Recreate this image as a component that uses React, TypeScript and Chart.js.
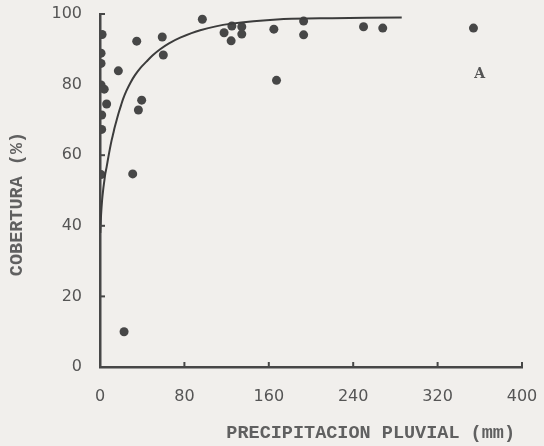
import React, { useEffect, useRef } from "react";
import { Chart, registerables } from "chart.js";

Chart.register(...registerables);

// Observed points: precipitation (mm) vs cover (%)
const precipX: number[] = [2, 1, 1, 1, 4, 6.3, 1.6, 1.6, 1, 17.4, 34.8, 39.5, 36.4, 31, 22.8, 59, 60, 97, 125, 117.6, 124.3, 134.4, 134.4, 164.8, 167.3, 193, 193, 249.8, 268, 354];
const coverY: number[] = [94.2, 88.9, 86, 79.9, 78.7, 74.5, 71.4, 67.3, 54.5, 83.9, 92.3, 75.6, 72.8, 54.7, 10, 93.5, 88.4, 98.5, 96.6, 94.7, 92.4, 96.4, 94.3, 95.7, 81.2, 98, 94.1, 96.4, 96, 96];

// Fitted curve
const curveX: number[] = [0.3, 1, 2, 3, 4, 5, 6.3, 8, 9.5, 11, 12.6, 14, 16, 18, 20, 22, 25, 29, 33, 38, 44, 50, 57, 65, 76, 95, 123, 171, 220, 286];
const curveY: number[] = [38, 43, 47.3, 50.2, 52.5, 54.7, 56.7, 59.6, 62, 64.2, 66.2, 68, 70.2, 72.3, 74.2, 76, 78.2, 80.6, 82.6, 84.6, 86.5, 88.3, 90, 91.6, 93.3, 95.4, 97.2, 98.5, 98.8, 99];

const xTicks: number[] = [0, 80, 160, 240, 320, 400];
const yTicks: number[] = [0, 20, 40, 60, 80, 100];

const xTitle = "PRECIPITACION PLUVIAL (mm)";
const yTitle = "COBERTURA (%)";
const panelLabel = "A";
const panelLabelPos = { x: 360, y: 83 };

const INK = "#474747";
const TEXT = "#555555";
const FONT_MONO = "'Liberation Mono', 'DejaVu Sans Mono', monospace";
const FONT_TICK = "'DejaVu Sans', sans-serif";

export default function App() {
  const ref = useRef<HTMLCanvasElement | null>(null);

  useEffect(() => {
    if (!ref.current) return;
    const paper = {
      id: "paper",
      beforeDraw(chart: any) {
        const { ctx, width, height } = chart;
        ctx.save();
        ctx.fillStyle = "#f1efec";
        ctx.fillRect(0, 0, width, height);
        ctx.restore();
      },
    };
    const extras = {
      id: "extras",
      afterDraw(chart: any) {
        const { ctx, chartArea, scales } = chart;
        const xs = scales.x;
        const ys = scales.y;
        ctx.save();
        ctx.strokeStyle = INK;
        ctx.lineWidth = 2;
        // inward ticks
        xTicks.forEach((v) => {
          const px = xs.getPixelForValue(v);
          ctx.beginPath();
          ctx.moveTo(px, chartArea.bottom);
          ctx.lineTo(px, chartArea.bottom - 5);
          ctx.stroke();
        });
        yTicks.forEach((v) => {
          const py = ys.getPixelForValue(v);
          ctx.beginPath();
          ctx.moveTo(chartArea.left, py);
          ctx.lineTo(chartArea.left + 5, py);
          ctx.stroke();
        });
        // titles
        ctx.fillStyle = "#606060";
        ctx.font = `bold 18.5px ${FONT_MONO}`;
        ctx.textAlign = "right";
        ctx.textBaseline = "middle";
        ctx.fillText(xTitle, 515, 433);
        ctx.save();
        ctx.translate(17, 204);
        ctx.rotate(-Math.PI / 2);
        ctx.textAlign = "center";
        ctx.fillText(yTitle, 0, 0);
        ctx.restore();
        // panel label
        ctx.fillStyle = TEXT;
        ctx.font = `bold 14px 'DejaVu Serif', serif`;
        ctx.textAlign = "center";
        ctx.fillText(panelLabel, xs.getPixelForValue(panelLabelPos.x), ys.getPixelForValue(panelLabelPos.y));
        ctx.restore();
      },
    };

    const chart = new Chart(ref.current, {
      type: "scatter",
      data: {
        datasets: [
          {
            label: "curve",
            type: "line",
            data: curveX.map((x, i) => ({ x, y: curveY[i] })),
            borderColor: "#3c3c3c",
            borderWidth: 2,
            pointRadius: 0,
            tension: 0.3,
            fill: false,
          } as any,
          {
            label: "obs",
            data: precipX.map((x, i) => ({ x, y: coverY[i] })),
            backgroundColor: INK,
            borderColor: INK,
            pointRadius: 4.5,
            pointBorderWidth: 0,
          },
        ],
      },
      options: {
        responsive: false,
        animation: false,
        layout: { padding: { top: 14, right: 22, left: 0, bottom: 0 } },
        plugins: { legend: { display: false }, tooltip: { enabled: false } },
        scales: {
          x: {
            type: "linear",
            min: 0,
            max: 400,
            afterFit: (s: any) => {
              s.height = 79;
              s.paddingLeft = 0;
              s.paddingRight = 0;
            },
            afterBuildTicks: (s: any) => {
              s.ticks = xTicks.map((v) => ({ value: v }));
            },
            grid: { display: false, drawTicks: false },
            border: { display: true, color: INK, width: 2.5 },
            ticks: {
              padding: 20,
              color: TEXT,
              font: { family: FONT_TICK, size: 16 },
            },
          },
          y: {
            type: "linear",
            min: 0,
            max: 100,
            afterFit: (s: any) => {
              s.width = 100;
              s.paddingTop = 0;
              s.paddingBottom = 0;
            },
            afterBuildTicks: (s: any) => {
              s.ticks = yTicks.map((v) => ({ value: v }));
            },
            grid: { display: false, drawTicks: false },
            border: { display: true, color: INK, width: 2.5 },
            ticks: {
              padding: 18,
              color: TEXT,
              font: { family: FONT_TICK, size: 16 },
            },
          },
        },
      },
      plugins: [paper, extras],
    });
    return () => chart.destroy();
  }, []);

  return (
    <div style={{ position: "absolute", left: 0, top: 0, width: 544, height: 446 }}>
      <canvas ref={ref} width={544} height={446} />
    </div>
  );
}
